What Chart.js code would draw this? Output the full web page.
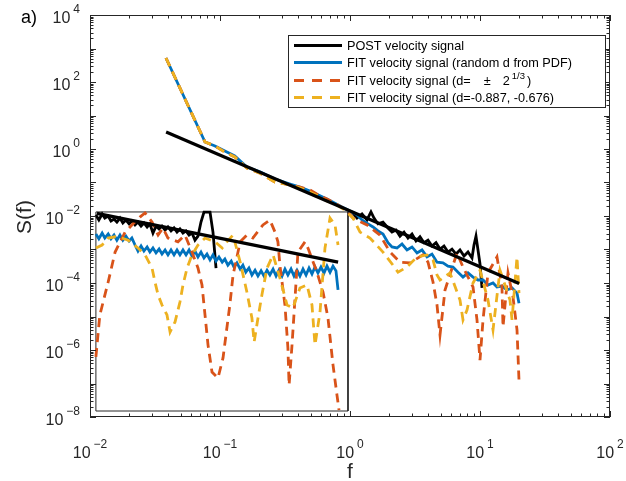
<!DOCTYPE html>
<html>
<head>
<meta charset="utf-8">
<script src="https://cdn.jsdelivr.net/npm/chart.js@4.4.1/dist/chart.umd.min.js"></script>
<style>
  html, body { margin: 0; padding: 0; background: #fff; }
  canvas { display: block; }
</style>
</head>
<body>
<canvas id="mycanvas" width="626" height="481"></canvas>
<script>
// ---- main axes data (f, S(f)) ----
var fitF = [0.0385, 20];
var fitS = [3.2, 9.6e-5];

var postF = [1.036, 1.132, 1.237, 1.351, 1.450, 1.530, 1.642, 1.794, 1.960, 2.104, 2.258, 2.424, 2.603, 2.794, 2.999, 3.219, 3.455, 3.709, 3.981, 4.273, 4.587, 4.924, 5.285, 5.673, 6.091, 6.537, 7.017, 7.534, 8.085, 8.679, 8.991, 9.316, 9.652, 10.0, 10.36];
var postS = [1.32e-2, 8.7e-3, 1.15e-2, 7.6e-3, 1.32e-2, 8.7e-3, 5.8e-3, 6.6e-3, 4.4e-3, 3.3e-3, 3.8e-3, 2.5e-3, 3.3e-3, 2.2e-3, 2.9e-3, 1.8e-3, 2.4e-3, 1.6e-3, 1.9e-3, 1.27e-3, 1.6e-3, 1.03e-3, 1.27e-3, 8.4e-4, 1.03e-3, 7.3e-4, 9.7e-4, 6.4e-4, 8.4e-4, 5.6e-4, 1.36e-3, 2.5e-3, 9.7e-4, 3.7e-4, 7.1e-5];

var blueF = [0.0384, 0.0767, 0.0915, 0.109, 0.130, 0.161, 0.203, 0.265, 0.346, 0.412, 0.492, 0.588, 0.665, 0.767, 0.868, 1.0, 1.112, 1.237, 1.376, 1.503, 1.642, 1.794, 1.960, 2.104, 2.299, 2.512, 2.745, 2.999, 3.277, 3.580, 3.912, 4.273, 4.670, 5.193, 5.673, 6.198, 6.774, 7.400, 8.085, 8.834, 9.652, 10.55, 11.52, 12.59, 13.51, 14.76, 16.13, 17.63, 19.26, 19.95];
var blueS = [520, 1.62, 1.23, 0.87, 0.62, 0.29, 0.21, 0.127, 0.090, 0.073, 0.056, 0.040, 0.032, 0.024, 0.0186, 0.0141, 0.0115, 7.6e-3, 5.8e-3, 4.7e-3, 3.6e-3, 2.9e-3, 1.6e-3, 1.19e-3, 1.11e-3, 1.46e-3, 9.7e-4, 1.19e-3, 7.9e-4, 9.7e-4, 6.0e-4, 7.3e-4, 4.2e-4, 4.0e-4, 3.2e-4, 3.0e-4, 2.1e-4, 1.5e-4, 2.0e-4, 1.5e-4, 1.23e-4, 1.23e-4, 8.7e-5, 1.0e-4, 7.6e-5, 8.1e-5, 6.2e-5, 7.1e-5, 5.0e-5, 2.5e-5];

var redF = [0.0384, 0.0767, 0.0915, 0.109, 0.130, 0.161, 0.203, 0.265, 0.346, 0.412, 0.492, 0.588, 0.665, 0.767, 0.915, 1.055, 1.351, 1.701, 2.031, 2.424, 2.894, 3.644, 3.981, 4.351, 4.670, 4.924, 5.381, 6.654, 7.400, 8.834, 9.482, 10.0, 10.55, 11.52, 13.51, 14.76, 15.03, 16.42, 17.94, 19.26, 19.95];
var redS = [520, 1.62, 1.23, 0.81, 0.58, 0.27, 0.19, 0.103, 0.084, 0.073, 0.060, 0.040, 0.032, 0.024, 0.0162, 8.7e-3, 5.4e-3, 2.7e-3, 8.4e-4, 4.2e-4, 4.0e-4, 6.9e-4, 4.2e-4, 1.07e-4, 2.2e-5, 2.8e-6, 6.2e-5, 7.9e-4, 3.0e-4, 7.6e-5, 7.9e-6, 5.0e-7, 7.9e-6, 2.0e-4, 6.0e-4, 7.6e-5, 4.9e-6, 2.0e-4, 3.8e-5, 4.0e-6, 1.27e-7];

var yellowF = [0.0384, 0.0767, 0.0915, 0.109, 0.130, 0.161, 0.203, 0.265, 0.346, 0.412, 0.492, 0.588, 0.665, 0.767, 0.915, 1.055, 1.194, 1.425, 1.794, 2.142, 2.340, 2.745, 3.277, 3.912, 4.351, 4.670, 4.924, 5.878, 7.017, 7.400, 7.943, 8.834, 10.0, 11.52, 12.59, 14.25, 17.01, 17.63, 19.26, 19.95];
var yellowS = [520, 1.62, 1.23, 0.81, 0.58, 0.27, 0.19, 0.103, 0.084, 0.069, 0.052, 0.037, 0.028, 0.023, 0.015, 8.7e-3, 3.3e-3, 2.2e-3, 8.4e-4, 3.4e-4, 2.1e-4, 3.0e-4, 6.0e-4, 6.9e-4, 4.9e-4, 1.73e-4, 1.23e-4, 2.0e-4, 3.1e-5, 7.9e-6, 1.56e-5, 1.0e-4, 2.4e-4, 3.1e-5, 4.0e-6, 2.4e-4, 3.1e-5, 7.9e-6, 6.0e-4, 5.0e-5];

// ---- inset (low-frequency zoom), same f / S(f) units ----
var insetBoxF = [0.0111, 0.965, 0.965, 0.0111, 0.0111];
var insetBoxS = [0.0132, 0.0132, 1.51e-8, 1.51e-8, 0.0132];

var insetFitF = [0.0113, 0.81];
var insetFitS = [1.2e-2, 4.2e-4];

var insetF = [0.0111, 0.0117, 0.0124, 0.0130, 0.0138, 0.0145, 0.0153, 0.0161, 0.0170, 0.0179, 0.0189, 0.0200, 0.0210, 0.0222, 0.0234, 0.0247, 0.0260, 0.0275, 0.0289, 0.0305, 0.0322, 0.0340, 0.0358, 0.0378, 0.0398, 0.0420, 0.0443, 0.0467, 0.0492, 0.0519, 0.0548, 0.0578, 0.0609, 0.0642, 0.0677, 0.0714, 0.0753, 0.0794, 0.0838, 0.0883, 0.0932, 0.0982, 0.104, 0.109, 0.115, 0.122, 0.128, 0.135, 0.143, 0.150, 0.158, 0.167, 0.176, 0.186, 0.196, 0.207, 0.218, 0.230, 0.242, 0.256, 0.270, 0.284, 0.300, 0.316, 0.333, 0.352, 0.371, 0.391, 0.412, 0.435, 0.459, 0.484, 0.510, 0.538, 0.567, 0.598, 0.631, 0.665, 0.702, 0.740, 0.780, 0.809];
var insetPostS = [1.07e-2, 7.6e-3, 1.15e-2, 8.7e-3, 1.0e-2, 7.1e-3, 8.1e-3, 6.6e-3, 8.7e-3, 6.2e-3, 7.6e-3, 5.8e-3, 7.1e-3, 5.4e-3, 6.6e-3, 5.0e-3, 6.2e-3, 4.7e-3, 5.8e-3, 3.1e-3, 5.0e-3, 4.1e-3, 5.0e-3, 3.8e-3, 4.7e-3, 3.6e-3, 4.4e-3, 3.3e-3, 4.1e-3, 3.1e-3, 3.6e-3, 2.7e-3, 3.1e-3, 1.9e-3, 2.5e-3, 6.6e-3, 1.3e-2, 1.3e-2, 1.3e-2, 3.3e-3, 2.8e-4];
var insetBlueS = [2.9e-3, 2.1e-3, 3.1e-3, 2.2e-3, 2.9e-3, 2.1e-3, 2.7e-3, 1.9e-3, 2.7e-3, 1.9e-3, 2.5e-3, 1.8e-3, 2.2e-3, 1.36e-3, 9.0e-4, 1.27e-3, 9.0e-4, 1.19e-3, 8.4e-4, 1.11e-3, 7.9e-4, 1.03e-3, 7.3e-4, 9.7e-4, 6.9e-4, 9.7e-4, 6.9e-4, 9.7e-4, 6.9e-4, 9.7e-4, 6.9e-4, 9.7e-4, 6.4e-4, 9.0e-4, 6.0e-4, 8.4e-4, 5.6e-4, 7.3e-4, 4.9e-4, 6.9e-4, 4.5e-4, 6.0e-4, 4.2e-4, 5.2e-4, 3.4e-4, 4.5e-4, 3.0e-4, 4.0e-4, 2.6e-4, 3.4e-4, 2.1e-4, 2.8e-4, 1.73e-4, 2.4e-4, 1.62e-4, 2.3e-4, 1.62e-4, 2.4e-4, 1.73e-4, 2.6e-4, 1.62e-4, 2.4e-4, 1.62e-4, 2.6e-4, 1.73e-4, 2.6e-4, 1.62e-4, 2.4e-4, 1.62e-4, 2.6e-4, 1.73e-4, 2.8e-4, 1.86e-4, 3.0e-4, 2.0e-4, 3.0e-4, 2.0e-4, 3.2e-4, 2.1e-4, 3.2e-4, 2.3e-4, 6.2e-5];

var insetRedF = [0.0111, 0.0119, 0.0138, 0.0156, 0.0186, 0.0210, 0.0242, 0.0265, 0.0300, 0.0334, 0.0364, 0.0398, 0.0475, 0.0538, 0.0609, 0.0677, 0.0727, 0.0767, 0.0809, 0.0868, 0.0965, 0.1055, 0.119, 0.126, 0.143, 0.161, 0.179, 0.214, 0.242, 0.265, 0.279, 0.289, 0.316, 0.333, 0.340, 0.358, 0.398, 0.451, 0.475, 0.557, 0.620, 0.677, 0.740, 0.794, 0.823];
var insetRedS = [6.2e-7, 1.1e-5, 1.07e-4, 8.4e-4, 3.3e-3, 5.4e-3, 9.3e-3, 1.23e-2, 6.6e-3, 2.7e-3, 4.4e-3, 2.2e-3, 1.7e-3, 2.7e-3, 8.4e-4, 2.8e-4, 8.7e-5, 1.1e-5, 1.4e-6, 2.2e-7, 1.46e-7, 5.8e-7, 2.2e-5, 1.73e-4, 1.7e-3, 2.7e-3, 2.2e-3, 5.4e-3, 7.6e-3, 3.3e-3, 1.7e-3, 3.4e-4, 2.2e-5, 1.15e-6, 9.0e-8, 1.4e-6, 8.4e-4, 1.7e-3, 1.1e-3, 2.1e-4, 5.4e-5, 9.0e-6, 3.6e-7, 4.5e-8, 1.6e-8];

var insetYellowF = [0.0111, 0.0124, 0.0138, 0.0156, 0.0176, 0.0196, 0.0234, 0.0265, 0.0300, 0.0316, 0.0334, 0.0358, 0.0391, 0.0413, 0.0451, 0.0492, 0.0519, 0.0558, 0.0609, 0.0677, 0.0767, 0.0915, 0.104, 0.113, 0.126, 0.143, 0.161, 0.176, 0.183, 0.196, 0.210, 0.230, 0.256, 0.289, 0.328, 0.364, 0.412, 0.467, 0.510, 0.538, 0.588, 0.642, 0.702, 0.767, 0.809];
var insetYellowS = [1.11e-3, 1.36e-3, 2.2e-3, 2.4e-3, 2.2e-3, 1.9e-3, 1.11e-3, 6.9e-4, 2.8e-4, 1.07e-4, 4.4e-5, 2.2e-5, 1.11e-5, 3.45e-6, 6.9e-6, 2.7e-5, 8.7e-5, 2.8e-4, 6.9e-4, 1.36e-3, 2.2e-3, 1.7e-3, 1.11e-3, 1.7e-3, 2.7e-3, 4.2e-4, 5.4e-5, 9.0e-6, 1.73e-6, 9.0e-6, 4.4e-5, 2.8e-4, 6.9e-4, 1.41e-4, 2.2e-5, 1.8e-5, 7.1e-5, 8.7e-5, 2.2e-5, 1.41e-6, 1.36e-5, 1.11e-3, 8.7e-3, 5.4e-3, 1.36e-3];

// ---- axes / text ----
var xTickExps = [-2, -1, 0, 1, 2];
var yTickExps = [-8, -6, -4, -2, 0, 2, 4];
var legendLabels = ['POST velocity signal', 'FIT velocity signal (random d from PDF)', 'FIT velocity signal (d=', 'FIT velocity signal (d=-0.887, -0.676)'];

var BLACK = '#000000', BLUE = '#0072BD', RED = '#D95319', YELLOW = '#EDB120', AXIS = '#262626';
var FONT = '"Liberation Sans", Arial, Helvetica, sans-serif';

function pts(xs, ys) {
	var out = [];
	for (var i = 0; i < ys.length; i++) out.push({x: xs[i], y: ys[i]});
	return out;
}

function line(data, color, width, dashed, order) {
	return {
		data: data,
		showLine: true,
		borderColor: color,
		backgroundColor: color,
		borderWidth: width,
		borderDash: dashed ? [9, 6] : [],
		pointRadius: 0,
		pointHoverRadius: 0,
		tension: 0,
		fill: false,
		order: order
	};
}

// "10" with a raised exponent, like the MATLAB log-axis labels
function drawPow(ctx, exp, x, y, align) {
	ctx.font = '16px ' + FONT;
	var bw = ctx.measureText('10').width;
	ctx.font = '12px ' + FONT;
	var es = exp < 0 ? '\u2212' + (-exp) : String(exp);
	var ew = ctx.measureText(es).width;
	var gap = 3;
	var left = align === 'right' ? x - bw - gap - ew : x - (bw + gap + ew) / 2;
	ctx.textAlign = 'left';
	ctx.textBaseline = 'alphabetic';
	ctx.font = '16px ' + FONT;
	ctx.fillText('10', left, y);
	ctx.font = '12px ' + FONT;
	ctx.fillText(es, left + bw + gap, y - 10);
}

var axesPlugin = {
	id: 'matlabAxes',
	afterDraw: function(chart) {
		var ctx = chart.ctx, a = chart.chartArea;
		var xs = chart.scales.x, ys = chart.scales.y;
		ctx.save();
		ctx.strokeStyle = AXIS;
		ctx.lineWidth = 1;
		ctx.strokeRect(a.left + 0.5, a.top + 0.5, a.right - a.left - 1, a.bottom - a.top - 1);

		// inward ticks on all four sides
		ctx.beginPath();
		var e, m, v, p, len;
		for (e = xTickExps[0]; e <= xTickExps[xTickExps.length - 1]; e++) {
			for (m = 1; m <= 9; m++) {
				if (e === xTickExps[xTickExps.length - 1] && m > 1) break;
				v = m * Math.pow(10, e);
				p = Math.round(xs.getPixelForValue(v)) + 0.5;
				len = m === 1 ? 6 : 3.5;
				ctx.moveTo(p, a.bottom); ctx.lineTo(p, a.bottom - len);
				ctx.moveTo(p, a.top); ctx.lineTo(p, a.top + len);
			}
		}
		for (e = yTickExps[0]; e <= yTickExps[yTickExps.length - 1]; e++) {
			for (m = 1; m <= 9; m++) {
				if (e === yTickExps[yTickExps.length - 1] && m > 1) break;
				v = m * Math.pow(10, e);
				p = Math.round(ys.getPixelForValue(v)) + 0.5;
				len = m === 1 ? 6 : 3.5;
				ctx.moveTo(a.left, p); ctx.lineTo(a.left + len, p);
				ctx.moveTo(a.right, p); ctx.lineTo(a.right - len, p);
			}
		}
		ctx.stroke();

		// tick labels
		ctx.fillStyle = AXIS;
		xTickExps.forEach(function(ex) {
			drawPow(ctx, ex, xs.getPixelForValue(Math.pow(10, ex)), a.bottom + 41, 'center');
		});
		yTickExps.forEach(function(ex) {
			drawPow(ctx, ex, a.left - 10, ys.getPixelForValue(Math.pow(10, ex)) + 8, 'right');
		});

		// axis labels and panel tag
		ctx.font = '21px ' + FONT;
		ctx.textAlign = 'center';
		ctx.textBaseline = 'alphabetic';
		ctx.fillText('f', (a.left + a.right) / 2, 478);
		ctx.save();
		ctx.translate(31, (a.top + a.bottom) / 2 + 1);
		ctx.rotate(-Math.PI / 2);
		ctx.fillText('S(f)', 0, 0);
		ctx.restore();
		ctx.textAlign = 'left';
		ctx.font = '18px ' + FONT;
		ctx.fillStyle = '#000';
		ctx.fillText('a)', 21, 23);

		// legend box
		var lx = 288, ly = 35, lw = 317, lh = 72;
		ctx.fillStyle = '#fff';
		ctx.fillRect(lx, ly, lw, lh);
		ctx.strokeStyle = AXIS;
		ctx.lineWidth = 1;
		ctx.strokeRect(lx + 0.5, ly + 0.5, lw, lh);
		var rows = [45, 62, 80, 97];
		var cols = [BLACK, BLUE, RED, YELLOW];
		for (var i = 0; i < 4; i++) {
			ctx.beginPath();
			ctx.strokeStyle = cols[i];
			ctx.lineWidth = i === 0 ? 3.2 : 2.8;
			ctx.setLineDash(i >= 2 ? [10, 8] : []);
			ctx.moveTo(294, rows[i] + 0.5);
			ctx.lineTo(342, rows[i] + 0.5);
			ctx.stroke();
		}
		ctx.setLineDash([]);
		ctx.fillStyle = '#000';
		ctx.font = '12.7px ' + FONT;
		ctx.textBaseline = 'alphabetic';
		for (i = 0; i < 4; i++) {
			ctx.fillText(legendLabels[i], 347, rows[i] + 5);
		}
		// the "± 2^(1/3)" part of row 3
		var x3 = 347 + ctx.measureText(legendLabels[2]).width + 13;
		ctx.fillText('\u00B1', x3, rows[2] + 5);
		x3 += ctx.measureText('\u00B1').width + 12;
		ctx.fillText('2', x3, rows[2] + 5);
		x3 += ctx.measureText('2').width + 2;
		ctx.font = '9.5px ' + FONT;
		ctx.fillText('1/3', x3, rows[2] - 1);
		x3 += ctx.measureText('1/3').width + 2;
		ctx.font = '12.7px ' + FONT;
		ctx.fillText(')', x3, rows[2] + 5);
		ctx.restore();
	}
};

var ctx = document.getElementById('mycanvas');

var chart = new Chart(ctx, {
	type: 'scatter',
	data: {
		datasets: [
			// main axes
			line(pts(fitF, fitS), BLACK, 3.2, false, 0),
			line(pts(yellowF, yellowS), YELLOW, 2.8, true, 2),
			line(pts(redF, redS), RED, 2.8, true, 3),
			line(pts(blueF, blueS), BLUE, 2.8, false, 4),
			line(pts(postF, postS), BLACK, 2.8, false, 5),
			// inset
			line(pts(insetFitF, insetFitS), BLACK, 3.2, false, 0),
			line(pts(insetYellowF, insetYellowS), YELLOW, 2.8, true, 2),
			line(pts(insetRedF, insetRedS), RED, 2.8, true, 3),
			line(pts(insetF, insetBlueS), BLUE, 2.8, false, 4),
			line(pts(insetF, insetPostS), BLACK, 2.8, false, 5),
			line(pts(insetBoxF, insetBoxS), AXIS, 1, false, 6)
		]
	},
	options: {
		responsive: false,
		animation: false,
		devicePixelRatio: 1,
		layout: { padding: { left: 90, right: 16, top: 15, bottom: 64 } },
		plugins: {
			legend: { display: false },
			tooltip: { enabled: false }
		},
		scales: {
			x: { type: 'logarithmic', min: 0.01, max: 100, display: false },
			y: { type: 'logarithmic', min: 1e-8, max: 1e4, display: false }
		}
	},
	plugins: [axesPlugin]
});
</script>
</body>
</html>
